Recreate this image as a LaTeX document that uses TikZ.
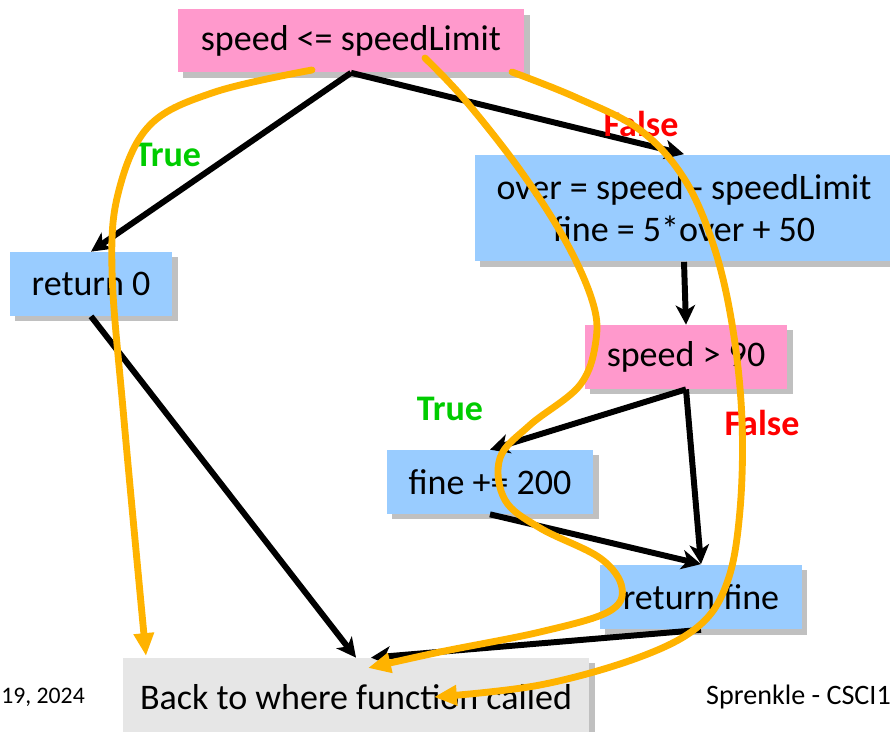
\documentclass[tikz,border=0pt]{standalone}
\usepackage{fontspec}
\setmainfont{Carlito}
\usetikzlibrary{arrows.meta,shadows}

\definecolor{condpink}{HTML}{FF99CC}
\definecolor{stmtblue}{HTML}{99CCFF}
\definecolor{backgray}{HTML}{E6E6E6}
\definecolor{traceorange}{HTML}{FFB300}
\definecolor{truegreen}{HTML}{00CC00}

\begin{document}
\begin{tikzpicture}[x=0.02cm,y=-0.02cm,
    box/.style={inner sep=0pt,align=center,font=\fontsize{20.5}{24}\selectfont,
      drop shadow={shadow xshift=3pt,shadow yshift=-3pt,fill=black!45,opacity=0.55}},
    test/.style={box,fill=condpink},
    stmt/.style={box,fill=stmtblue},
    flow/.style={line width=3.4pt,-{Stealth[length=11pt,width=11pt,inset=3pt]}},
    trace/.style={line width=3.9pt,traceorange,line cap=round,
      -{Triangle[length=13pt,width=11pt]}},
    branch/.style={font=\fontsize{20.5}{24}\selectfont\bfseries}]
  \useasboundingbox (0,0) rectangle (890,732);

  % Statements and tests
  \node[test,minimum width=6.94cm,minimum height=1.26cm] (limit) at (351,41) {speed <= speedLimit};
  \node[stmt,minimum width=8.36cm,minimum height=2.14cm] (over) at (684,208)
    {over = speed - speedLimit\\fine = 5*over + 50};
  \node[stmt,minimum width=3.26cm,minimum height=1.28cm] (ret0) at (91,284) {return 0};
  \node[test,minimum width=4.06cm,minimum height=1.28cm] (fast) at (686,357) {speed > 90};
  \node[stmt,minimum width=4.14cm,minimum height=1.28cm] (extra) at (490,482) {fine += 200};
  \node[stmt,minimum width=4.04cm,minimum height=1.30cm] (retfine) at (701,597) {return fine};
  \node[box,fill=backgray,minimum width=9.34cm,minimum height=1.56cm] (back) at (356,697)
    {Back to where function called};

  % Footer
  \node[anchor=west,inner sep=0pt,font=\fontsize{13.5}{16}\selectfont] (date) at (1,697) {19, 2024};
  \node[anchor=west,font=\fontsize{16}{19}\selectfont] (course) at (700,697) {Sprenkle - CSCI1};

  % Control flow
  \draw[flow] (limit.south) -- (ret0.north);
  \draw[flow] (limit.south) -- (over.north);
  \draw[flow] (over.south) -- (fast.north);
  \draw[flow] (fast.south) -- (extra.north);
  \draw[flow] (fast.south) -- (retfine.north);
  \draw[flow] (extra.south) -- (retfine.north);
  \draw[flow] (ret0.south) -- (back.north);
  \draw[flow] (retfine.south) -- ([xshift=0.3cm]back.north);

  % Branch labels
  \node[branch,text=truegreen] (t1) at (168,155) {True};
  \node[branch,text=red] (f1) at (641,124) {False};
  \node[branch,text=truegreen] (t2) at (450,409) {True};
  \node[branch,text=red] (f2) at (762,423) {False};

  % Paths traced through the function
  \coordinate (p1) at (312,70);
  \coordinate (p2) at (425,58);
  \coordinate (p3) at (512,72);
  \draw[trace] plot[smooth,tension=0.6] coordinates {(p1) (215,92) (150,125) (119,190)
    (112,270) (124,420) (146,656)};
  \draw[trace] plot[smooth,tension=0.6] coordinates {(p2) (465,100) (520,170) (565,240)
    (592,300) (596,340) (580,385) (530,425) (500,458) (505,500) (540,528) (600,558)
    (622,588) (608,612) (540,632) (440,652) (368,668)};
  \draw[trace] plot[smooth,tension=0.6] coordinates {(p3) (575,97) (640,130) (685,180)
    (715,250) (733,330) (742,420) (740,510) (728,580) (700,625) (640,657) (540,685)
    (434,697)};
\end{tikzpicture}
\end{document}
